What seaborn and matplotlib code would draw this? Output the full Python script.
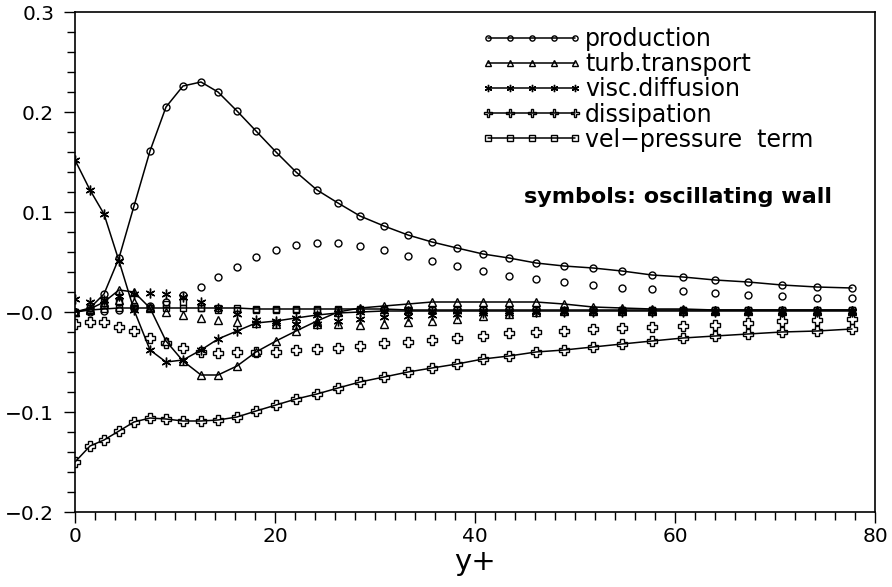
import matplotlib
matplotlib.use('Agg')
import matplotlib.pyplot as plt
from matplotlib.ticker import MultipleLocator
import seaborn as sns

# wall distance y+ of the grid points
yplus = [0, 1.5, 2.9, 4.4, 5.9, 7.5, 9.1, 10.8, 12.6, 14.3, 16.2, 18.1, 20.1, 22.1,
         24.2, 26.3, 28.5, 30.9, 33.3, 35.7, 38.2, 40.8, 43.4, 46.1, 48.9, 51.8,
         54.7, 57.7, 60.8, 64.0, 67.3, 70.7, 74.2, 77.7]

# budget terms, reference case (lines with markers)
prod_line = [0.000, 0.004, 0.018, 0.054, 0.106, 0.161, 0.205, 0.226, 0.230, 0.220, 0.201,
             0.181, 0.160, 0.140, 0.122, 0.109, 0.096, 0.086, 0.077, 0.070, 0.064, 0.058,
             0.054, 0.049, 0.046, 0.044, 0.041, 0.037, 0.035, 0.032, 0.030, 0.027, 0.025, 0.024]
turb_line = [0.000, 0.003, 0.010, 0.022, 0.020, 0.004, -0.029, -0.049, -0.063, -0.063, -0.054,
             -0.040, -0.029, -0.019, -0.009, 0.000, 0.004, 0.006, 0.008, 0.010, 0.010, 0.010,
             0.010, 0.010, 0.008, 0.005, 0.004, 0.003, 0.003, 0.002, 0.002, 0.002, 0.002, 0.002]
visc_line = [0.152, 0.122, 0.098, 0.051, 0.002, -0.038, -0.050, -0.048, -0.038, -0.027, -0.019,
             -0.011, -0.009, -0.006, -0.003, -0.001, 0.000, 0.001, 0.001, 0.001, 0.001, 0.001,
             0.001, 0.001, 0.001, 0.001, 0.001, 0.001, 0.001, 0.001, 0.001, 0.001, 0.001, 0.001]
diss_line = [-0.150, -0.134, -0.128, -0.119, -0.110, -0.106, -0.107, -0.109, -0.109, -0.108,
             -0.105, -0.099, -0.093, -0.087, -0.082, -0.076, -0.070, -0.065, -0.060, -0.056,
             -0.052, -0.047, -0.044, -0.040, -0.038, -0.035, -0.032, -0.029, -0.026, -0.024,
             -0.022, -0.020, -0.019, -0.017]
vp_line = [0.000, 0.002, 0.003, 0.004, 0.004, 0.004, 0.004, 0.004, 0.004, 0.004, 0.004,
           0.003, 0.003, 0.003, 0.003, 0.003, 0.003, 0.003, 0.002, 0.002, 0.002, 0.002,
           0.002, 0.002, 0.002, 0.002, 0.002, 0.002, 0.002, 0.002, 0.002, 0.002, 0.002, 0.002]

# oscillating wall case (symbols only)
prod_osc = [0.000, 0.000, 0.001, 0.002, 0.004, 0.006, 0.010, 0.017, 0.025, 0.035, 0.045,
            0.055, 0.062, 0.067, 0.069, 0.069, 0.066, 0.062, 0.056, 0.051, 0.046, 0.041,
            0.036, 0.033, 0.030, 0.027, 0.024, 0.023, 0.021, 0.019, 0.017, 0.016, 0.014, 0.014]
turb_osc = [0.000, 0.002, 0.008, 0.012, 0.010, 0.005, 0.000, -0.003, -0.006, -0.008, -0.010,
            -0.011, -0.012, -0.013, -0.012, -0.012, -0.013, -0.012, -0.010, -0.009, -0.007,
            -0.004, -0.002, 0.000, 0.001, 0.001, 0.001, 0.001, 0.001, 0.001, 0.001, 0.001,
            0.001, 0.001]
visc_osc = [0.013, 0.010, 0.012, 0.016, 0.018, 0.019, 0.018, 0.015, 0.010, 0.004, -0.002,
            -0.008, -0.011, -0.012, -0.012, -0.009, -0.007, -0.005, -0.004, -0.003, -0.002,
            -0.001, -0.001, 0.000, 0.000, 0.000, 0.000, 0.000, 0.000, 0.000, 0.000, 0.000,
            0.000, 0.000]
diss_osc = [-0.012, -0.010, -0.010, -0.015, -0.019, -0.026, -0.031, -0.036, -0.040, -0.041,
            -0.040, -0.040, -0.040, -0.038, -0.037, -0.036, -0.034, -0.031, -0.030, -0.028,
            -0.026, -0.024, -0.021, -0.020, -0.019, -0.017, -0.016, -0.015, -0.014, -0.013,
            -0.011, -0.009, -0.008, -0.007]
vp_osc = [0.000, 0.004, 0.012, 0.010, 0.006, 0.004, 0.008, 0.010, 0.004, 0.002, 0.002,
          0.002, 0.002, 0.002, 0.002, 0.002, 0.002, 0.002, 0.002, 0.002, 0.002, 0.002,
          0.002, 0.002, 0.002, 0.002, 0.002, 0.002, 0.002, 0.002, 0.002, 0.002, 0.002, 0.002]

terms = ['production', 'turb.transport', 'visc.diffusion', 'dissipation', 'vel\u2212pressure  term']
xticks = [0, 20, 40, 60, 80]
xtick_labels = ['0', '20', '40', '60', '80']
yticks = [0.3, 0.2, 0.1, 0.0, -0.1, -0.2]
ytick_labels = ['0.3', '0.2', '0.1', '\u22120.0', '\u22120.1', '\u22120.2']

lines = [prod_line, turb_line, visc_line, diss_line, vp_line]
oscs = [prod_osc, turb_osc, visc_osc, diss_osc, vp_osc]
markers = ['o', '^', (6, 2, 0), 'P', 's']
msizes = [5, 5.5, 7, 6.8, 5]

sns.set_style('ticks', {'axes.edgecolor': 'black', 'text.color': 'black',
                        'xtick.color': 'black', 'ytick.color': 'black',
                        'axes.labelcolor': 'black'})
plt.rcParams['font.family'] = ['DejaVu Sans']

fig = plt.figure(figsize=(8.92, 5.87), dpi=100)
ax = fig.add_axes([75 / 892, 75 / 587, 800 / 892, 500 / 587])

for term, ln, osc, mk, ms in zip(terms, lines, oscs, markers, msizes):
    sns.lineplot(x=yplus, y=ln, ax=ax, color='k', lw=1.1, marker=mk, ms=ms,
                 mfc='none', mec='k', mew=1.0, label=term, errorbar=None, sort=False)
    sns.lineplot(x=yplus, y=osc, ax=ax, color='k', linestyle='', marker=mk, ms=ms,
                 mfc='none', mec='k', mew=1.0, errorbar=None, sort=False, legend=False)

ax.set_xlim(0, 80)
ax.set_ylim(-0.2, 0.3)
ax.set_xticks(xticks)
ax.set_xticklabels(xtick_labels)
ax.set_yticks(yticks)
ax.set_yticklabels(ytick_labels)
ax.xaxis.set_minor_locator(MultipleLocator(2))
ax.yaxis.set_minor_locator(MultipleLocator(0.02))
ax.tick_params(which='major', direction='out', length=8, width=1.0, labelsize=14.5)
ax.tick_params(which='minor', direction='out', length=5.5, width=1.0)
ax.tick_params(axis='y', which='major', pad=7)
ax.tick_params(axis='x', which='major', pad=3)
ax.tick_params(top=False, right=False)
for sp in ax.spines.values():
    sp.set_linewidth(1.2)
    sp.set_visible(True)

ax.set_xlabel('y+', fontsize=21, labelpad=1)
ax.set_ylabel('')

handles, labels = ax.get_legend_handles_labels()
ax.legend(handles, labels, loc='upper left', bbox_to_anchor=(0.5075, 0.97),
          frameon=False, numpoints=5, markerscale=0.75, handlelength=4.3,
          handletextpad=0.1, labelspacing=0.05, borderpad=0, borderaxespad=0,
          fontsize=17)

ax.text(0.561, 0.63, 'symbols: oscillating wall', transform=ax.transAxes,
        fontsize=16, fontweight='bold', ha='left', va='center')

fig.savefig('out.png', dpi=100)
